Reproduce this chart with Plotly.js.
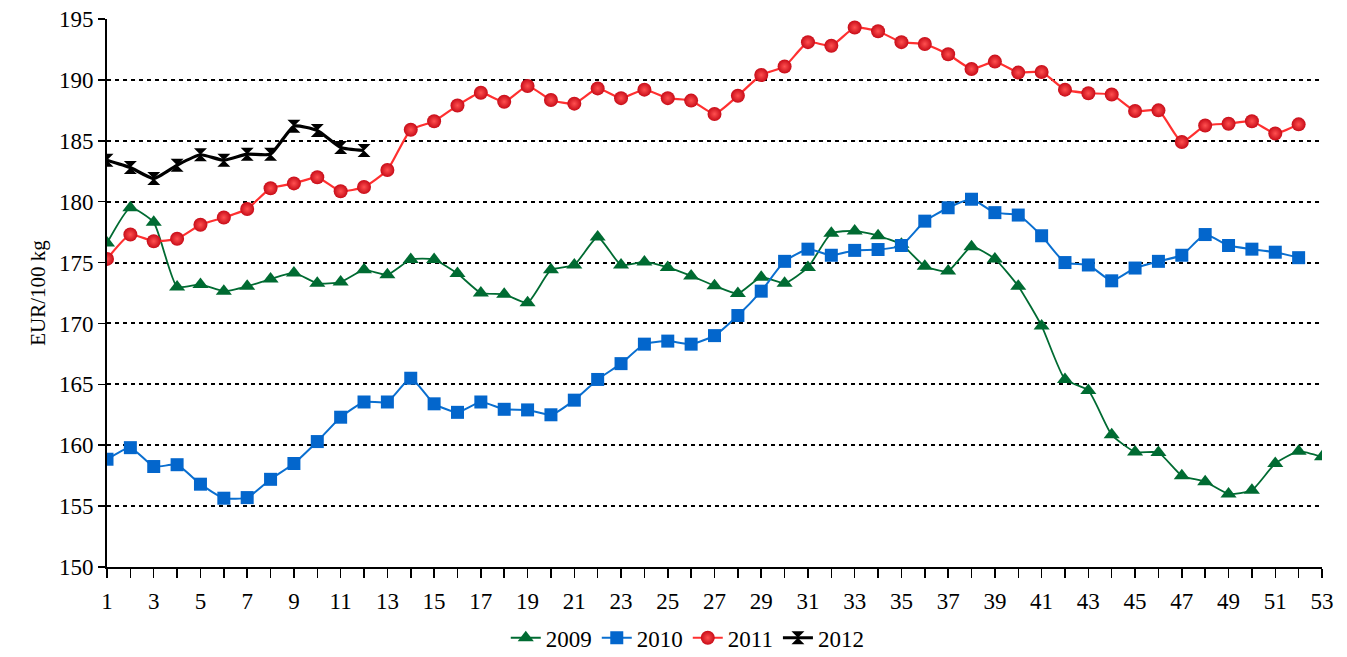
<!DOCTYPE html>
<html><head><meta charset="utf-8">
<script src="https://cdn.plot.ly/plotly-3.0.1.min.js"></script>
<style>html,body{margin:0;padding:0;background:#fff}#chart{width:1347px;height:657px}</style>
</head><body><div id="chart"></div>
<script>
const weeks = Array.from({length:53},(_,i)=>i+1);
const s2009 = [176.6,179.5,178.3,173.0,173.2,172.65,173.05,173.65,174.15,173.3,173.4,174.4,174.0,175.25,175.25,174.1,172.5,172.4,171.7,174.4,174.8,177.1,174.8,175.05,174.6,173.9,173.1,172.45,173.8,173.3,174.6,177.4,177.6,177.2,176.5,174.7,174.3,176.3,175.3,173.05,169.8,165.4,164.5,160.85,159.45,159.4,157.5,157.0,156.0,156.3,158.5,159.5,159.05];
const s2010 = [158.85,159.8,158.25,158.4,156.8,155.65,155.7,157.2,158.5,160.3,162.3,163.55,163.55,165.5,163.4,162.7,163.55,162.95,162.9,162.5,163.7,165.4,166.7,168.3,168.55,168.3,169.0,170.65,172.65,175.1,176.1,175.6,176.0,176.07,176.4,178.4,179.5,180.2,179.1,178.9,177.2,175.0,174.8,173.5,174.55,175.1,175.6,177.3,176.4,176.1,175.85,175.4];
const s2011 = [175.3,177.3,176.75,176.95,178.1,178.7,179.4,181.1,181.5,182.0,180.85,181.2,182.6,185.9,186.6,187.9,188.95,188.2,189.5,188.35,188.05,189.3,188.5,189.2,188.5,188.3,187.2,188.7,190.4,191.1,193.1,192.8,194.3,194.0,193.1,192.95,192.1,190.9,191.5,190.6,190.65,189.2,188.9,188.8,187.45,187.5,184.9,186.25,186.4,186.6,185.6,186.35];
const s2012 = [183.4,182.8,181.9,183.0,183.85,183.4,183.9,183.9,186.2,185.85,184.45,184.2];
const names = ['2009','2010','2011','2012'];
const xTickVals = weeks.filter(w=>w%2===1);

const font = {family:'Liberation Serif', size:23, color:'#000'};
const titleFont = {family:'Liberation Serif', size:21, color:'#000'};
const traces = [
  {x:weeks.slice(0,s2009.length), y:s2009, name:names[0], mode:'lines+markers',
   line:{color:'#006b32', width:1.8, shape:'spline', smoothing:0.5},
   marker:{symbol:'triangle-up', size:14, color:'#006b32'}},
  {x:weeks.slice(0,s2010.length), y:s2010, name:names[1], mode:'lines+markers',
   line:{color:'#0a6fd0', width:2, shape:'spline', smoothing:0.5},
   marker:{symbol:'square', size:13, color:'#0366cc'}},
  {x:weeks.slice(0,s2011.length), y:s2011, name:names[2], mode:'lines+markers',
   line:{color:'#ff3030', width:2.2, shape:'spline', smoothing:0.5},
   marker:{symbol:'circle', size:14, color:'#c80c18', gradient:{type:'radial', color:'#ff5050'}}},
  {x:weeks.slice(0,s2012.length), y:s2012, name:names[3], mode:'lines+markers',
   line:{color:'#000', width:3.2, shape:'spline', smoothing:0.5},
   marker:{symbol:'hourglass', size:13, color:'#000'}}
];
const layout = {
  width:1347, height:657,
  margin:{l:107, r:25, t:19, b:90, autoexpand:false},
  paper_bgcolor:'#fff', plot_bgcolor:'#fff',
  font:font,
  showlegend:true,
  legend:{orientation:'h', x:0.478, xanchor:'center', y:-0.09, yanchor:'top', font:font, itemwidth:30, tracegroupgap:0},
  xaxis:{range:[1,53], tickmode:'array', tickvals:xTickVals, ticktext:xTickVals.map(String),
         showgrid:false, zeroline:false, showline:true, linecolor:'#000', linewidth:2,
         ticks:'', tickfont:font, ticklabelstandoff:12, fixedrange:true, automargin:false,
         minor:{tickmode:'linear', tick0:1, dtick:1, ticks:'outside', ticklen:9, tickcolor:'#000', tickwidth:1.5, showgrid:false}},
  yaxis:{range:[150,195], dtick:5, tick0:150, showgrid:true, gridcolor:'#000', gridwidth:2, griddash:'4px,4px',
         zeroline:false, showline:true, linecolor:'#000', linewidth:2, ticks:'outside', ticklen:7, tickwidth:1.5, tickcolor:'#000',
         tickfont:font, fixedrange:true, automargin:false,
         title:{text:'EUR/100 kg', font:titleFont, standoff:8}},
  hovermode:false
};
Plotly.newPlot('chart', traces, layout, {displayModeBar:false, staticPlot:true});
</script></body></html>
